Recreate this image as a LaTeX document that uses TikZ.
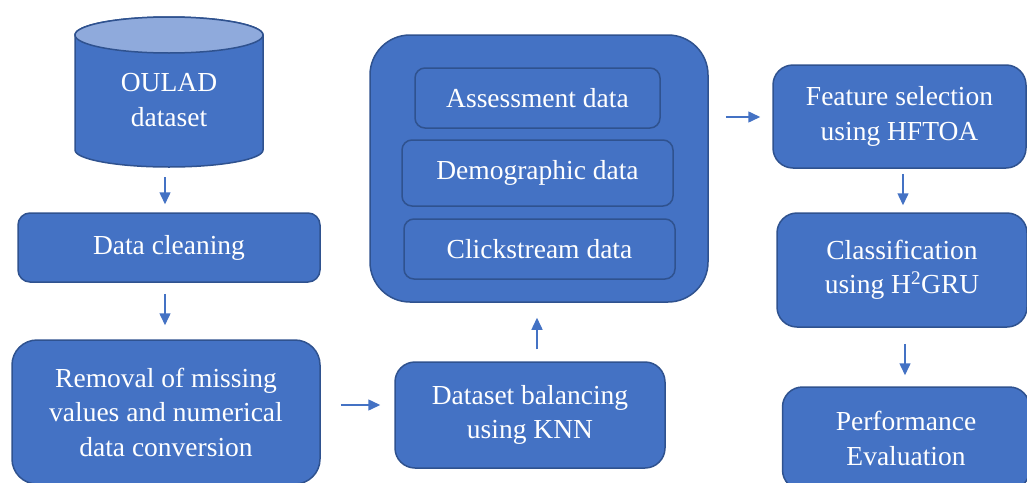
\documentclass[tikz,border=0pt]{standalone}
\usepackage{fontspec}
\setmainfont{Liberation Serif}
\usetikzlibrary{arrows.meta}
\definecolor{boxfill}{HTML}{4472C4}
\definecolor{boxline}{HTML}{2F528F}
\definecolor{topfill}{HTML}{8FAADC}
\begin{document}
\begin{tikzpicture}[x=1pt,y=-1pt,
  box/.style={draw=boxline, fill=boxfill, line width=1.5pt, text=white, align=center,
    font=\fontsize{27.5}{34.5}\selectfont, inner sep=0pt},
  arr/.style={-{Triangle[length=12pt,width=11pt]}, draw=boxfill, line width=1.5pt}]
\useasboundingbox (0,0) rectangle (1027,482);
\clip (0,0) rectangle (1027,482);
% cylinder
\filldraw[draw=boxline, fill=boxfill, line width=1.5pt]
  (75,35) -- (75,150) arc[start angle=180, end angle=360, x radius=94pt, y radius=17pt]
  -- (263,35) arc[start angle=0, end angle=180, x radius=94pt, y radius=18pt] -- cycle;
\filldraw[draw=boxline, fill=topfill, line width=1.5pt] (169,35) ellipse [x radius=94pt, y radius=18pt];
\node[text=white, align=center, font=\fontsize{27.5}{34.5}\selectfont] (oulad) at (169,100) {OULAD\\dataset};
\coordinate (cylbot) at (165,167);
% left column
\node[box, rounded corners=12pt, minimum width=302pt, minimum height=69pt] (clean) at (169,247.5) {Data cleaning};
\node[box, rounded corners=25pt, minimum width=308pt, minimum height=144pt] (removal) at (166,412)
  {Removal of missing\\values and numerical\\data conversion};
\node[box, rounded corners=20pt, minimum width=270pt, minimum height=106pt] (balance) at (530,415)
  {Dataset balancing\\using KNN};
% big container
\node[box, rounded corners=40pt, minimum width=338pt, minimum height=267pt] (big) at (539,168.5) {};
\node[box, rounded corners=10pt, minimum width=245pt, minimum height=60pt] (assess) at (537.5,98) {Assessment data};
\node[box, rounded corners=10pt, minimum width=271pt, minimum height=66pt] (demo) at (537.5,173) {Demographic data};
\node[box, rounded corners=10pt, minimum width=271pt, minimum height=60pt] (click) at (539.5,249) {Clickstream data};
% right column
\node[box, rounded corners=20pt, minimum width=253pt, minimum height=103pt] (feature) at (899.5,116.5)
  {Feature selection\\using HFTOA};
\node[box, rounded corners=20pt, minimum width=250pt, minimum height=114pt] (class) at (902,270)
  {Classification\\using H\textsuperscript{2}GRU};
\node[box, rounded corners=20pt, minimum width=247pt, minimum height=103pt] (perf) at (906,438.5)
  {Performance\\Evaluation};
% arrows
\draw[arr] ([yshift=-10pt]cylbot) -- ([xshift=-4pt,yshift=8pt]clean.north);
\draw[arr] ([xshift=-4pt,yshift=-11pt]clean.south) -- ([xshift=-1pt,yshift=14pt]removal.north);
\draw[arr] ([xshift=20pt,yshift=7pt]removal.east) -- ([xshift=-14pt,yshift=10pt]balance.west);
\draw[arr] ([xshift=7pt,yshift=12pt]balance.north) -- ([xshift=-2pt,yshift=-15pt]big.south);
\draw[arr] ([xshift=17pt,yshift=51.5pt]big.east) -- ([xshift=-12pt,yshift=-0.5pt]feature.west);
\draw[arr] ([xshift=3.5pt,yshift=-5pt]feature.south) -- ([xshift=1pt,yshift=7pt]class.north);
\draw[arr] ([xshift=3pt,yshift=-16pt]class.south) -- ([xshift=-1pt,yshift=11pt]perf.north);
\end{tikzpicture}
\end{document}
